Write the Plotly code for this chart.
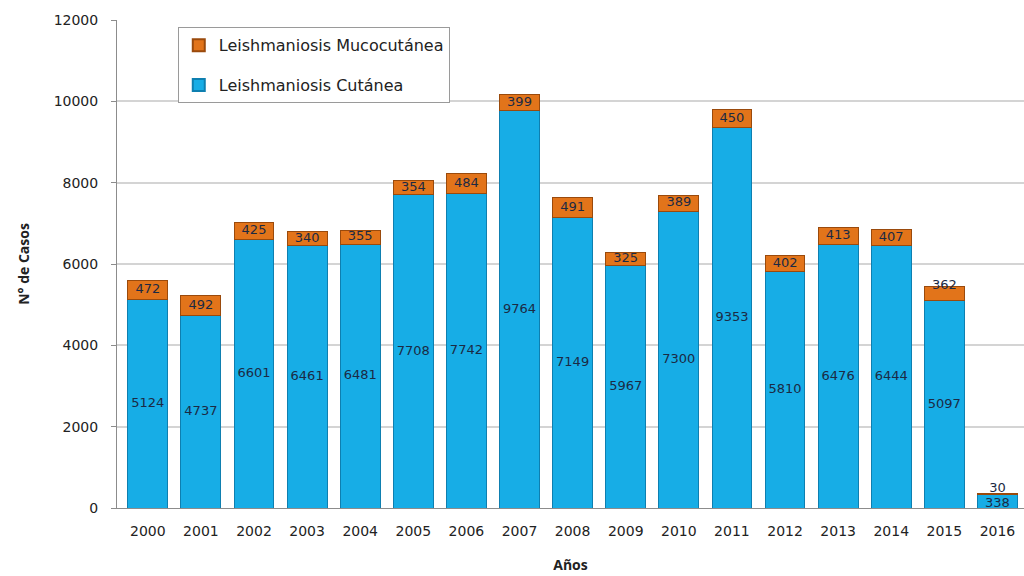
import plotly.graph_objects as go

years = ["2000", "2001", "2002", "2003", "2004", "2005", "2006", "2007", "2008",
         "2009", "2010", "2011", "2012", "2013", "2014", "2015", "2016"]
cutanea = [5124, 4737, 6601, 6461, 6481, 7708, 7742, 9764, 7149,
           5967, 7300, 9353, 5810, 6476, 6444, 5097, 338]
mucocutanea = [472, 492, 425, 340, 355, 354, 484, 399, 491,
               325, 389, 450, 402, 413, 407, 362, 30]

BLUE = "#17ADE6"
BLUE_EDGE = "#0E7FB0"
ORANGE = "#E2741A"
ORANGE_EDGE = "#9A4A0C"
LABEL = "#1B2A44"
FONT = "DejaVu Sans"
TITLE_FONT = "Open Sans"

fig = go.Figure()

fig.add_trace(go.Bar(
    x=years, y=cutanea, name="Leishmaniosis Cutánea",
    marker=dict(color=BLUE, line=dict(color=BLUE_EDGE, width=1)),
    legendgroup="c", legendrank=2,
))
fig.add_trace(go.Bar(
    x=years, y=mucocutanea, name="Leishmaniosis Mucocutánea",
    marker=dict(color=ORANGE, line=dict(color=ORANGE_EDGE, width=1)),
    legendgroup="m", legendrank=1,
))

# value labels: centred in each segment, small top segments pushed above
cut_mid = [c / 2 for c in cutanea]
muc_mid = [c + m / 2 for c, m in zip(cutanea, mucocutanea)]
muc_pos = ["middle center"] * len(years)
muc_pos[-2] = "top center"
muc_pos[-1] = "top center"
muc_y = list(muc_mid)
muc_y[-2] = cutanea[-2] + mucocutanea[-2] - 150
muc_y[-1] = cutanea[-1] + mucocutanea[-1] - 60
cut_y = list(cut_mid)
cut_y[-1] = cutanea[-1] / 2 - 60

fig.add_trace(go.Scatter(
    x=years, y=cut_y, mode="text", text=[str(v) for v in cutanea],
    textposition="middle center", textfont=dict(family=FONT, size=13, color=LABEL),
    showlegend=False, hoverinfo="skip",
))
fig.add_trace(go.Scatter(
    x=years, y=muc_y, mode="text", text=[str(v) for v in mucocutanea],
    textposition=muc_pos, textfont=dict(family=FONT, size=13, color=LABEL),
    showlegend=False, hoverinfo="skip",
))

fig.update_layout(
    width=1024, height=576,
    barmode="stack", bargap=0.25,
    paper_bgcolor="white", plot_bgcolor="white",
    margin=dict(l=117, r=0, t=20, b=68),
    font=dict(family=FONT, size=14, color="#222222"),
    showlegend=True,
    legend=dict(
        x=0.067, y=0.985, xanchor="left", yanchor="top",
        bordercolor="#9A9A9A", borderwidth=1, bgcolor="white",
        traceorder="grouped", tracegroupgap=16,
        font=dict(family=FONT, size=16, color="#222222"),
        itemsizing="constant",
    ),
    xaxis=dict(
        range=[-0.58, 16.5], showgrid=False,
        showline=True, linecolor="#8C8C8C", linewidth=1,
        ticks="", ticklabelstandoff=10,
        tickfont=dict(family=FONT, size=14, color="#222222"),
        title=dict(text="<b>Años</b>", font=dict(family=TITLE_FONT, size=14, color="#222222"), standoff=22),
    ),
    yaxis=dict(
        range=[0, 12000], dtick=2000, tickformat="d",
        showgrid=True, gridcolor="#D4D4D4", gridwidth=1.5,
        showline=True, linecolor="#8C8C8C", linewidth=1,
        ticks="outside", ticklen=5, tickcolor="#8C8C8C", ticklabelstandoff=10,
        tickfont=dict(family=FONT, size=14, color="#222222"),
        title=dict(text="<b>N° de Casos</b>", font=dict(family=TITLE_FONT, size=14, color="#222222"), standoff=20),
        zeroline=False,
    ),
)

fig.write_html("out.html")
